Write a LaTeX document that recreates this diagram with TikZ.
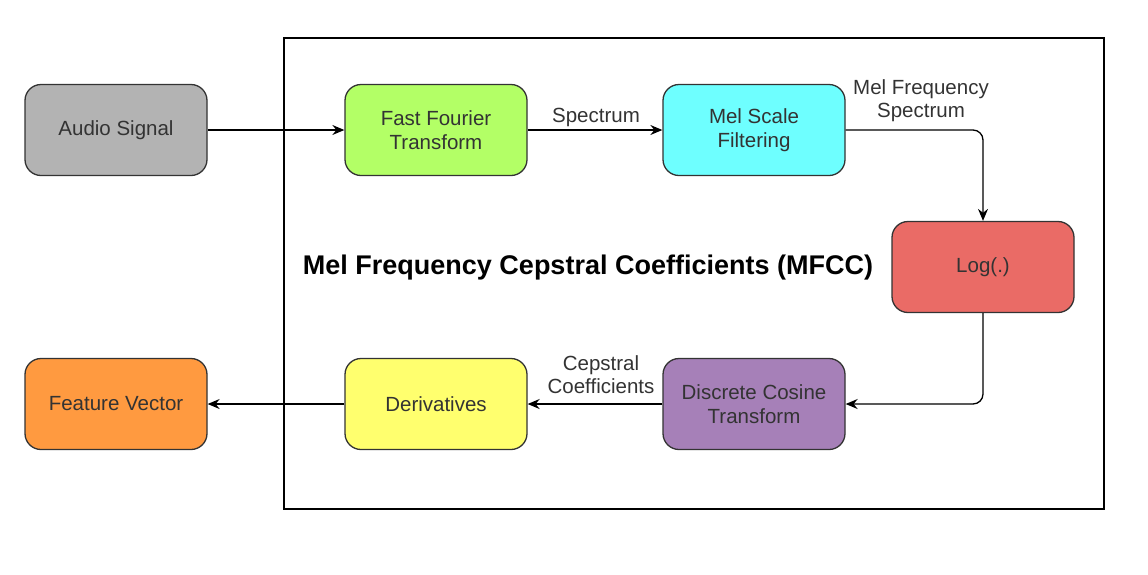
\documentclass[tikz,border=0pt]{standalone}
\usepackage{fontspec}
\setmainfont{Liberation Sans}
\usetikzlibrary{arrows.meta}
\definecolor{audiogray}{HTML}{B3B3B3}
\definecolor{fftgreen}{HTML}{B3FF66}
\definecolor{melcyan}{HTML}{6EFFFF}
\definecolor{logred}{HTML}{EA6B66}
\definecolor{dctpurple}{HTML}{A680B8}
\definecolor{derivyellow}{HTML}{FFFF6E}
\definecolor{featorange}{HTML}{FF9A40}
\definecolor{inkgray}{HTML}{333333}
\begin{document}
\begin{tikzpicture}[x=1pt,y=-1pt,
  block/.style={draw=inkgray, line width=1.3pt, rounded corners=16pt,
    minimum width=182pt, minimum height=91pt, align=center, text=inkgray,
    font=\fontsize{20.5}{24}\selectfont},
  flow/.style={line width=1.3pt, -{Stealth[length=12pt,width=10pt,inset=4pt]}},
  lbl/.style={text=inkgray, align=center, inner sep=0pt,
    font=\fontsize{20.5}{23}\selectfont}]
\useasboundingbox (0,0) rectangle (1148,574);
\draw[line width=1.2pt] (284,38) rectangle (1104,509); % MFCC frame
\node[font=\fontsize{27}{30}\selectfont\bfseries] (title) at (588,268) {Mel Frequency Cepstral Coefficients (MFCC)};
% blocks
\node[block, fill=audiogray] (audio) at (116,130) {Audio Signal};
\node[block, fill=fftgreen] (fft) at (436,130) {Fast Fourier\\Transform};
\node[block, fill=melcyan] (mel) at (754,130) {Mel Scale\\Filtering};
\node[block, fill=logred] (log) at (983,267) {Log(.)};
\node[block, fill=dctpurple] (dct) at (754,404) {Discrete Cosine\\Transform};
\node[block, fill=derivyellow] (deriv) at (436,404) {Derivatives};
\node[block, fill=featorange] (feat) at (116,404) {Feature Vector};
% connectors
\draw[flow] (audio) -- (fft);
\draw[flow] (fft) -- (mel);
\draw[flow, rounded corners=10pt] (mel.east) -| (log.north);
\draw[flow, rounded corners=10pt] (log.south) |- (dct.east);
\draw[flow] (dct) -- (deriv);
\draw[flow] (deriv) -- (feat);
% labels
\node[lbl] (spec) at (596,117) {Spectrum};
\node[lbl] (melspec) at (921,101) {Mel Frequency\\Spectrum};
\node[lbl] (cep) at (601,375) {Cepstral\\Coefficients};
\end{tikzpicture}
\end{document}
